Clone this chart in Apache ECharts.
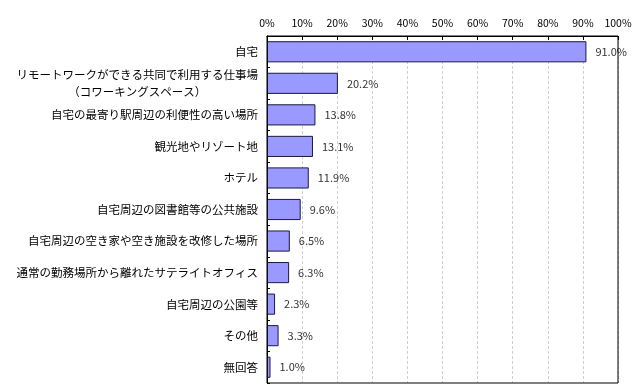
<!DOCTYPE html>
<html>
<head>
<meta charset="utf-8">
<script src="https://cdn.jsdelivr.net/npm/echarts@6/dist/echarts.min.js"></script>
<style>html,body{margin:0;padding:0;background:#fff;}#c{width:640px;height:391px;}</style>
</head>
<body>
<div id="c"></div>
<script>
const categories = [
  '自宅',
  'リモートワークができる共同で利用する仕事場\n（コワーキングスペース）',
  '自宅の最寄り駅周辺の利便性の高い場所',
  '観光地やリゾート地',
  'ホテル',
  '自宅周辺の図書館等の公共施設',
  '自宅周辺の空き家や空き施設を改修した場所',
  '通常の勤務場所から離れたサテライトオフィス',
  '自宅周辺の公園等',
  'その他',
  '無回答'
];
const values = [91.0, 20.2, 13.8, 13.1, 11.9, 9.6, 6.5, 6.3, 2.3, 3.3, 1.0];
const axisMin = 0, axisMax = 100, axisStep = 10;

const chart = echarts.init(document.getElementById('c'));
const font = '"Noto Sans CJK JP", "Noto Sans", sans-serif';
chart.setOption({
  animation: false,
  backgroundColor: '#fff',
  grid: { left: 267, right: 22, top: 36, bottom: 8, show: true, borderColor: '#000', borderWidth: 1, z: 5 },
  xAxis: {
    type: 'value', position: 'top', min: axisMin, max: axisMax, interval: axisStep,
    axisLine: { show: true, lineStyle: { color: '#000', width: 1 } },
    axisTick: { show: true, inside: true, length: 4, lineStyle: { color: '#000' } },
    axisLabel: { formatter: '{value}%', color: '#000', fontSize: 10.5, fontFamily: font, margin: 8 },
    splitLine: { show: true, lineStyle: { color: '#d0d0d0', type: [3, 2], width: 1 } }
  },
  yAxis: {
    type: 'category', inverse: true, data: categories,
    axisLine: { show: true, lineStyle: { color: '#000', width: 1 } },
    axisTick: { show: true, inside: true, length: 3, lineStyle: { color: '#000' } },
    axisLabel: {
      color: '#000', fontSize: 11.5, fontFamily: font, margin: 9, lineHeight: 17,
      formatter: function (v) { return v.split('\n').map(s => '{c|' + s + '}').join('\n'); },
      rich: { c: { align: 'center', fontSize: 11.5, fontFamily: font, color: '#000', lineHeight: 17 } }
    }
  },
  series: [{
    type: 'bar', data: values, barCategoryGap: '33%',
    itemStyle: { color: '#9999ff', borderColor: '#1a1a40', borderWidth: 1 },
    label: { show: true, position: 'right', distance: 9, formatter: p => p.value.toFixed(1) + '%', color: '#333', fontSize: 11, fontFamily: font }
  }]
});
</script>
</body>
</html>
